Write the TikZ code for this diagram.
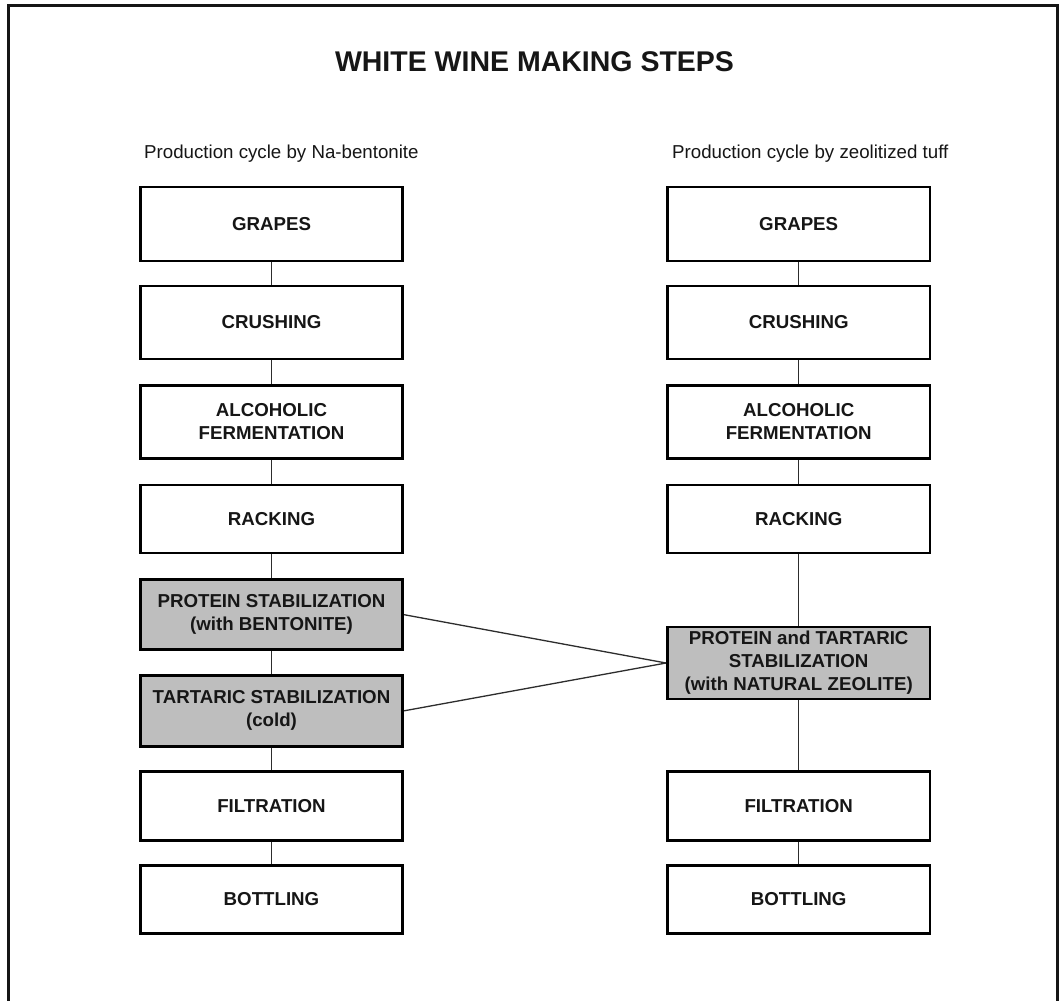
\documentclass[tikz,border=0pt]{standalone}
\usepackage{fontspec}
\setmainfont{Liberation Sans}
\definecolor{boxgray}{RGB}{190,190,190}
\definecolor{ink}{RGB}{22,22,22}
\definecolor{linkgray}{RGB}{45,45,45}
\begin{document}
\begin{tikzpicture}[x=1pt,y=-1pt,
  stepbox/.style={draw=black, line width=2.8pt, fill=white, minimum width=262.5pt,
    inner sep=0pt, align=center, text=ink,
    font=\fontsize{18.7}{23}\selectfont\bfseries},
  graybox/.style={stepbox, fill=boxgray},
  link/.style={draw=linkgray, line width=1.3pt},
  subtitle/.style={anchor=base west, inner sep=0pt, text=ink,
    font=\fontsize{18.7}{22}\selectfont},
  titletext/.style={anchor=base, inner sep=0pt, text=ink,
    font=\fontsize{28.5}{34}\selectfont\bfseries}]
\useasboundingbox (0,0) rectangle (1063,1001);
\fill[white] (0,0) rectangle (1063,1001);
% outer frame (bottom edge lies outside the picture)
\draw[line width=3pt, draw=ink] (8.5,1001) -- (8.5,5.3) -- (1057.5,5.3) -- (1057.5,1001);

% title and subtitles
\node[titletext] (title) at (534.5,71.7) {WHITE WINE MAKING STEPS};
\node[subtitle] (subL) at (144,158.3) {Production cycle by Na-bentonite};
\node[subtitle] (subR) at (672,158.3) {Production cycle by zeolitized tuff};

% left column
\node[stepbox, minimum height=74pt] (L1) at (271.5,224) {GRAPES};
\node[stepbox, minimum height=73pt] (L2) at (271.5,322.5) {CRUSHING};
\node[stepbox, minimum height=73pt] (L3) at (271.5,422) {ALCOHOLIC\\FERMENTATION};
\node[stepbox, minimum height=68pt] (L4) at (271.5,519) {RACKING};
\node[graybox, minimum height=70pt] (L5) at (271.5,614.7) {PROTEIN STABILIZATION\\(with BENTONITE)};
\node[graybox, minimum height=71pt] (L6) at (271.5,710.8) {TARTARIC STABILIZATION\\(cold)};
\node[stepbox, minimum height=69pt] (L7) at (271.5,805.8) {FILTRATION};
\node[stepbox, minimum height=68pt] (L8) at (271.5,899.5) {BOTTLING};

% right column
\node[stepbox, minimum height=74pt] (R1) at (798.7,224) {GRAPES};
\node[stepbox, minimum height=73pt] (R2) at (798.7,322.5) {CRUSHING};
\node[stepbox, minimum height=73pt] (R3) at (798.7,422) {ALCOHOLIC\\FERMENTATION};
\node[stepbox, minimum height=68pt] (R4) at (798.7,519) {RACKING};
\node[graybox, minimum height=72pt] (R5) at (798.7,663) {PROTEIN and TARTARIC\\STABILIZATION\\(with NATURAL ZEOLITE)};
\node[stepbox, minimum height=69pt] (R7) at (798.7,805.8) {FILTRATION};
\node[stepbox, minimum height=68pt] (R8) at (798.7,899.5) {BOTTLING};

% connectors left
\draw[link] (L1) -- (L2);
\draw[link] (L2) -- (L3);
\draw[link] (L3) -- (L4);
\draw[link] (L4) -- (L5);
\draw[link] (L5) -- (L6);
\draw[link] (L6) -- (L7);
\draw[link] (L7) -- (L8);
% connectors right
\draw[link] (R1) -- (R2);
\draw[link] (R2) -- (R3);
\draw[link] (R3) -- (R4);
\draw[link] (R4) -- (R5);
\draw[link] (R5) -- (R7);
\draw[link] (R7) -- (R8);
% cross connectors
\draw[link] (L5.east) -- (R5.west);
\draw[link] (L6.east) -- (R5.west);
\end{tikzpicture}
\end{document}
